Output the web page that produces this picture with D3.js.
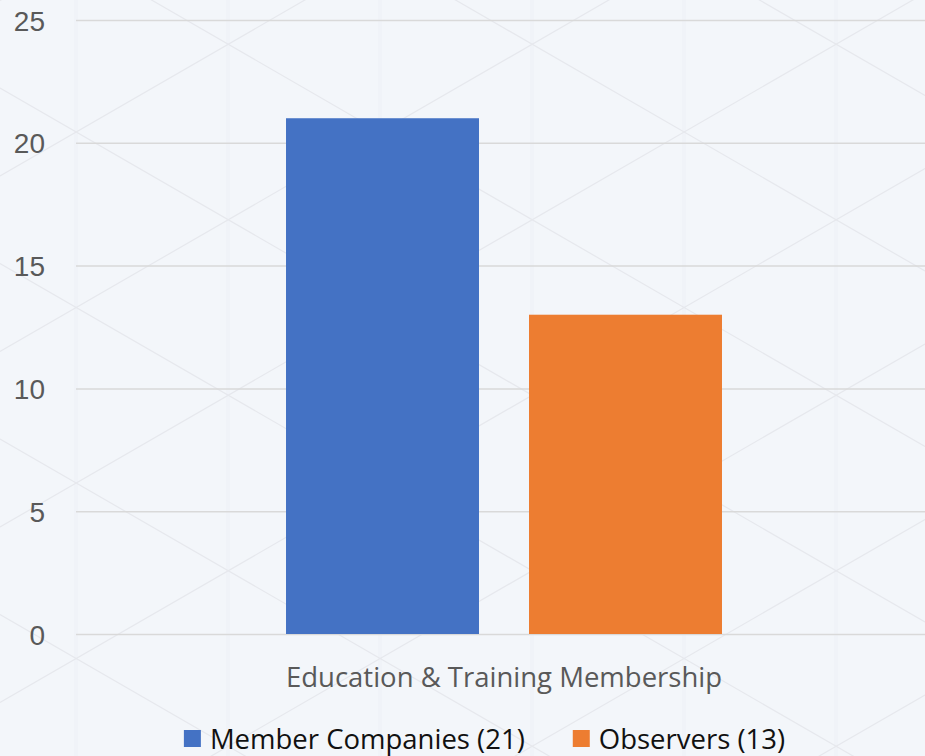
<!DOCTYPE html>
<html>
<head>
<meta charset="utf-8">
<script src="https://cdn.jsdelivr.net/npm/d3@7"></script>
<style>
  html, body { margin: 0; padding: 0; background: #f3f6fa; }
  svg { display: block; font-family: "Open Sans", "Noto Sans", sans-serif; }
</style>
</head>
<body>
<div id="chart"></div>
<script>
// data
const categories = ["Education & Training Membership"]
const seriesNames = ["Member Companies (21)", "Observers (13)"]
const seriesValues = [21, 13]
const seriesColors = ["#4472c4", "#ed7d31"]
const yTicks = [0, 5, 10, 15, 20, 25]

// dimensions
const width = 925
const height = 756

let dims = {
    margin: { top: 20, left: 76 },
    plotRight: 932,
    plotBottom: 634,
}

const svg = d3.select("#chart")
    .append("svg")
    .attr("width", width)
    .attr("height", height)

// background with faint triangle lattice
svg.append("rect")
    .attr("width", width)
    .attr("height", height)
    .attr("fill", "#f3f6fa")

const deco = svg.append("g").attr("class", "deco")
for (let x = 76; x < width; x += 152) {
    deco.append("rect")
        .attr("x", x - 2).attr("y", 0)
        .attr("width", 4).attr("height", height)
        .attr("fill", "#f0f3f8")
}
const slope = Math.tan(Math.PI / 6)
const vStep = 175.5
for (let k = -8; k <= 12; k++) {
    const c = 176 + k * vStep
    deco.append("line")
        .attr("x1", 0).attr("y1", c)
        .attr("x2", width).attr("y2", c - slope * width)
    const d = 88 + k * vStep
    deco.append("line")
        .attr("x1", 0).attr("y1", d)
        .attr("x2", width).attr("y2", d + slope * width)
}
deco.selectAll("line")
    .attr("stroke", "#e6e8ed")
    .attr("stroke-width", 1.2)

// scales
const yScale = d3.scaleLinear()
    .domain([0, 25])
    .range([dims.plotBottom, dims.margin.top])

const x0 = d3.scaleBand()
    .domain(categories)
    .range([dims.margin.left, dims.plotRight])
    .paddingInner(0)
    .paddingOuter(0.4817)

const x1 = d3.scaleBand()
    .domain(seriesNames)
    .range([0, x0.bandwidth()])
    .paddingInner(0.2058)
    .paddingOuter(0)

// gridlines
const yAxis = d3.axisLeft(yScale)
    .tickValues(yTicks)
    .tickSize(-(dims.plotRight - dims.margin.left))
    .tickPadding(31)

const yAxisG = svg.append("g")
    .attr("transform", `translate(${dims.margin.left},0)`)
    .call(yAxis)

yAxisG.select(".domain").remove()
yAxisG.selectAll(".tick line")
    .attr("stroke", "#d9d9d9")
    .attr("stroke-width", 1.5)
yAxisG.selectAll(".tick text")
    .attr("fill", "#595959")
    .style("font-size", "28px")
    .attr("dy", "0.36em")

// bars
svg.append("g")
    .selectAll("rect")
    .data(seriesNames.map((s, i) => ({ cat: categories[0], name: s, value: seriesValues[i], color: seriesColors[i] })))
    .join("rect")
    .attr("x", d => x0(d.cat) + x1(d.name))
    .attr("y", d => yScale(d.value))
    .attr("width", x1.bandwidth())
    .attr("height", d => yScale(0) - yScale(d.value))
    .attr("fill", d => d.color)

// category label
svg.append("text")
    .attr("x", x0(categories[0]) + x0.bandwidth() / 2)
    .attr("y", 687)
    .attr("text-anchor", "middle")
    .attr("fill", "#595959")
    .style("font-size", "27.5px")
    .text(categories[0])

// legend
const legend = svg.append("g").attr("class", "legend")
const items = legend.selectAll("g")
    .data(seriesNames)
    .join("g")

items.append("rect")
    .attr("width", 17)
    .attr("height", 17)
    .attr("y", 730)
    .attr("fill", (d, i) => seriesColors[i])

items.append("text")
    .attr("x", 26)
    .attr("y", 749)
    .attr("fill", "#111")
    .style("font-size", "27.5px")
    .text(d => d)

// position legend items, centered
const gap = 48
let widths = []
items.each(function () {
    widths.push(26 + d3.select(this).select("text").node().getComputedTextLength())
})
const total = d3.sum(widths) + gap * (widths.length - 1)
let cursor = 484.5 - total / 2
items.attr("transform", (d, i) => {
    const t = `translate(${cursor},0)`
    cursor += widths[i] + gap
    return t
})
</script>
</body>
</html>
